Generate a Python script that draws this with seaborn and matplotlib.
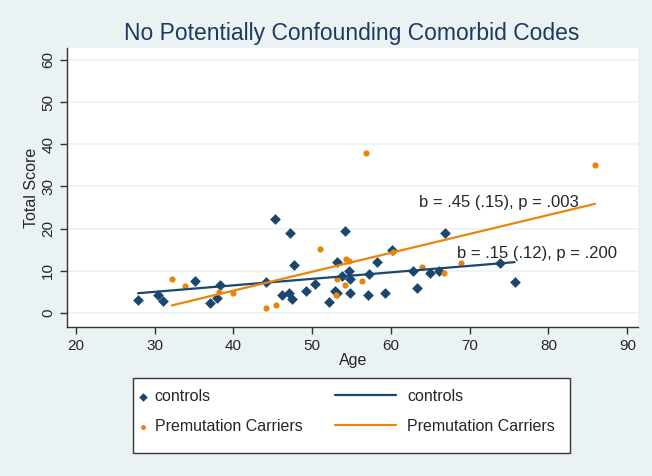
import matplotlib
matplotlib.use("Agg")
import matplotlib.pyplot as plt
from matplotlib.patches import Rectangle
import pandas as pd
import seaborn as sns

# values
ctrl_age = [27.9, 30.4, 31.1, 35.1, 37.0, 37.9, 38.3, 44.1, 45.3, 46.2,
            47.2, 47.1, 47.4, 47.7, 49.2, 50.3, 52.1, 53.1, 52.9, 53.2,
            53.8, 54.2, 54.7, 54.8, 54.8, 57.1, 57.2, 58.2, 59.3, 60.1,
            62.8, 63.3, 64.9, 66.1, 66.8, 73.8, 75.7]
ctrl_score = [3.2, 4.4, 2.8, 7.7, 2.4, 3.6, 6.6, 7.3, 22.3, 4.3,
              19.0, 4.7, 3.4, 11.4, 5.2, 6.8, 2.7, 12.0, 5.3, 4.7,
              8.8, 19.4, 10.0, 8.1, 4.7, 4.4, 9.2, 12.0, 4.8, 15.0,
              10.0, 5.9, 9.4, 10.0, 19.0, 11.8, 7.3]

pm_age = [32.2, 33.9, 38.2, 39.9, 44.2, 45.4, 51.0, 53.0, 53.2, 54.2,
          54.3, 54.7, 56.3, 56.8, 60.2, 63.9, 66.7, 68.9, 85.9]
pm_score = [8.1, 6.4, 5.0, 4.7, 1.3, 1.8, 15.3, 4.4, 8.1, 6.7,
            12.8, 12.4, 7.5, 37.9, 14.4, 11.0, 9.6, 11.9, 35.1]

groups = ["controls", "Premutation Carriers"]
fit_labels = ["b = .15 (.12), p = .200", "b = .45 (.15), p = .003"]
title = "No Potentially Confounding Comorbid Codes"

navy = "#1A476F"
orange = "#E8850C"
bg = "#EAF2F3"

df = pd.DataFrame({
    "Age": ctrl_age + pm_age,
    "Total Score": ctrl_score + pm_score,
    "group": [groups[0]] * len(ctrl_age) + [groups[1]] * len(pm_age),
})

sns.set_style("white")
plt.rcParams["font.family"] = ["Liberation Sans", "DejaVu Sans"]

fig = plt.figure(figsize=(6.52, 4.76), dpi=100, facecolor=bg)
ax = fig.add_axes([0.103, 0.313, 0.876, 0.586])
ax.set_facecolor("white")

styles = {groups[0]: dict(color=navy, marker="D", s=30),
          groups[1]: dict(color=orange, marker="o", s=20)}

for g in groups:
    sub = df[df["group"] == g]
    sns.scatterplot(data=sub, x="Age", y="Total Score", ax=ax, label=g,
                    linewidth=0, zorder=3, **styles[g])

for g in groups:
    sub = df[df["group"] == g]
    sns.regplot(data=sub, x="Age", y="Total Score", ax=ax, scatter=False,
                ci=None, truncate=True, label=g,
                line_kws=dict(color=styles[g]["color"], lw=1.6, zorder=4))

ax.text(63.6, 26.1, fit_labels[1], fontsize=12, va="center", ha="left", zorder=5)
ax.text(68.4, 14.2, fit_labels[0], fontsize=12, va="center", ha="left", zorder=5)

ax.set_xlim(18.9, 91.4)
ax.set_ylim(-3.3, 62.8)
ax.set_xticks(range(20, 91, 10))
ax.set_yticks(range(0, 61, 10))
ax.grid(axis="y", color=bg, lw=1.2)
ax.grid(axis="x", visible=False)
ax.set_axisbelow(True)

for side in ["top", "right"]:
    ax.spines[side].set_visible(False)
for side in ["left", "bottom"]:
    ax.spines[side].set_color("#333333")
    ax.spines[side].set_linewidth(1.0)

ax.tick_params(axis="both", direction="out", length=5, width=1,
               color="#333333", labelsize=11, bottom=True, left=True)
for lab in ax.get_yticklabels():
    lab.set_rotation(90)
    lab.set_va("center")

ax.set_xlabel("Age", fontsize=11.5, labelpad=0)
ax.set_ylabel("Total Score", fontsize=11.5, labelpad=2)
fig.text(0.539, 0.93, title, fontsize=16.5, color="#1E3A5F",
         ha="center", va="center")

# legend: frame box plus two frameless columns (markers, fit lines)
handles, labels = ax.get_legend_handles_labels()
if ax.get_legend():
    ax.get_legend().remove()
W, H = 652.0, 476.0
fig.patches.append(Rectangle((133 / W, 1 - 453 / H), 437 / W, 75 / H,
                             transform=fig.transFigure, facecolor="white",
                             edgecolor="#333333", lw=1.0, zorder=1))
common = dict(loc="center left", fontsize=11.5, frameon=False,
              borderpad=0, borderaxespad=0, labelspacing=0.95)
fig.legend(handles[:2], labels[:2], bbox_to_anchor=(138 / W, 1 - 411.5 / H),
           handlelength=0.6, handletextpad=0.45, markerscale=0.8, **common)
fig.legend(handles[2:], labels[2:], bbox_to_anchor=(335 / W, 1 - 411.5 / H),
           handlelength=3.8, handletextpad=0.7, **common)

fig.savefig("out.png", dpi=100, facecolor=bg)
